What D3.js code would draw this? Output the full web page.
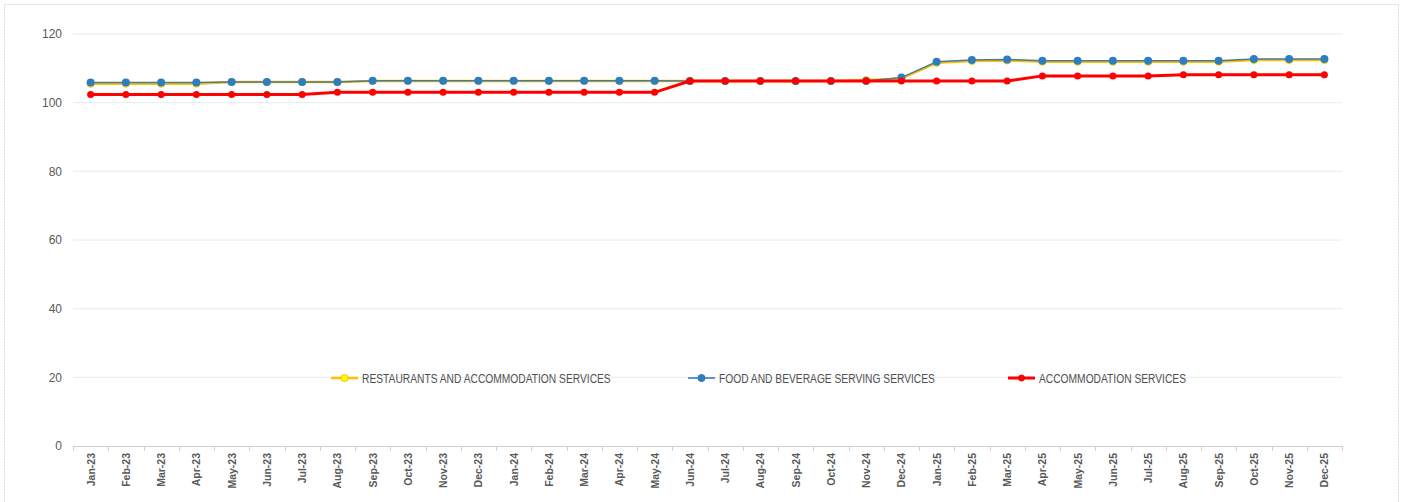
<!DOCTYPE html>
<html>
<head>
    <script src="https://cdn.jsdelivr.net/npm/d3@7"></script>
    <style>
        body { margin: 0; background: #fff; }
        svg text { font-family: "Liberation Sans", Arial, sans-serif; }
    </style>
</head>
<body>
<div id="chart"></div>
<script>
    var months = ["Jan-23","Feb-23","Mar-23","Apr-23","May-23","Jun-23","Jul-23","Aug-23","Sep-23","Oct-23","Nov-23","Dec-23",
                  "Jan-24","Feb-24","Mar-24","Apr-24","May-24","Jun-24","Jul-24","Aug-24","Sep-24","Oct-24","Nov-24","Dec-24",
                  "Jan-25","Feb-25","Mar-25","Apr-25","May-25","Jun-25","Jul-25","Aug-25","Sep-25","Oct-25","Nov-25","Dec-25"];

    var restaurants = [105.5,105.5,105.5,105.5,106.0,106.0,106.0,106.0,106.3,106.3,106.3,106.3,
                       106.3,106.3,106.3,106.3,106.3,106.3,106.3,106.3,106.3,106.3,106.6,107.0,
                       111.6,112.1,112.3,111.9,111.9,111.9,111.9,111.9,111.9,112.4,112.4,112.4];
    var food = [105.9,105.9,105.9,105.9,106.0,106.0,106.0,106.0,106.4,106.4,106.4,106.4,
                106.4,106.4,106.4,106.4,106.4,106.3,106.3,106.3,106.3,106.3,106.3,107.3,
                111.9,112.4,112.6,112.2,112.2,112.2,112.2,112.2,112.2,112.7,112.7,112.7];
    var accommodation = [102.4,102.4,102.4,102.4,102.4,102.4,102.4,103.0,103.0,103.0,103.0,103.0,
                         103.0,103.0,103.0,103.0,103.0,106.3,106.3,106.3,106.3,106.3,106.3,106.3,
                         106.3,106.3,106.3,107.8,107.8,107.8,107.8,108.1,108.1,108.1,108.1,108.1];

    var yTicks = [0, 20, 40, 60, 80, 100, 120];

    var W = 1403, H = 502;
    var marg_l = 73, marg_r = 61, marg_t = 34, marg_b = 56;
    var width = W - marg_l - marg_r,
        height = H - marg_t - marg_b;

    var root = d3.select("#chart").append("svg")
        .attr("width", W)
        .attr("height", H);

    // chart area border
    root.append("rect")
        .attr("x", 4.5).attr("y", 4.5)
        .attr("width", 1394).attr("height", 520)
        .attr("fill", "none")
        .attr("stroke", "#d9d9d9")
        .attr("stroke-dasharray", "2,1");

    var svg = root.append("g")
        .attr("transform", "translate(" + marg_l + "," + marg_t + ")");

    var x = d3.scaleBand().domain(months).range([0, width]);
    var y = d3.scaleLinear().domain([0, 120]).range([height, 0]);
    var cx = function(i) { return x(months[i]) + x.bandwidth() / 2; };

    // gridlines
    svg.append("g")
        .selectAll("line")
        .data(yTicks.filter(function(d) { return d > 0; }))
        .enter().append("line")
            .attr("x1", 0).attr("x2", width)
            .attr("y1", function(d) { return y(d); })
            .attr("y2", function(d) { return y(d); })
            .attr("stroke", "#e3ecee")
            .attr("stroke-width", 1);

    // y axis labels
    var yAxis = svg.append("g")
        .call(d3.axisLeft(y).tickValues(yTicks).tickSize(0).tickPadding(11));
    yAxis.select(".domain").remove();
    yAxis.selectAll("text")
        .attr("fill", "#595959")
        .style("font-size", "12px")
        .style("font-family", "Liberation Sans, Arial, sans-serif");

    // x axis
    svg.append("line")
        .attr("x1", 0).attr("x2", width)
        .attr("y1", height + 0.5).attr("y2", height + 0.5)
        .attr("stroke", "#d0d0d0");
    svg.append("g")
        .selectAll("line")
        .data(d3.range(months.length + 1))
        .enter().append("line")
            .attr("x1", function(i) { return Math.round(i * x.bandwidth()) + 0.5; })
            .attr("x2", function(i) { return Math.round(i * x.bandwidth()) + 0.5; })
            .attr("y1", height)
            .attr("y2", height + 5)
            .attr("stroke", "#d0d0d0");

    svg.append("g")
        .selectAll("text")
        .data(months)
        .enter().append("text")
            .attr("transform", function(d, i) {
                return "translate(" + (cx(i) + 4) + "," + (height + 7) + ")rotate(-90)";
            })
            .style("text-anchor", "end")
            .style("font-size", "10.5px")
            .style("font-weight", "bold")
            .attr("fill", "#595959")
            .text(function(d) { return d; });

    var line = d3.line()
        .x(function(d, i) { return cx(i); })
        .y(function(d) { return y(d); });

    // restaurants and accommodation (yellow)
    svg.append("path")
        .datum(restaurants)
        .attr("fill", "none")
        .attr("stroke", "#ffc000")
        .attr("stroke-width", 2.5)
        .attr("d", line);
    svg.append("g").selectAll("circle")
        .data(restaurants)
        .enter().append("circle")
            .attr("cx", function(d, i) { return cx(i); })
            .attr("cy", function(d) { return y(d); })
            .attr("r", 3.5)
            .attr("fill", "#ffff00")
            .attr("stroke", "#ffc000")
            .attr("stroke-width", 1);

    // food and beverage (blue)
    svg.append("path")
        .datum(food)
        .attr("fill", "none")
        .attr("stroke", "#4a7a9a")
        .attr("stroke-width", 1.5)
        .attr("d", line);
    svg.append("g").selectAll("circle")
        .data(food)
        .enter().append("circle")
            .attr("cx", function(d, i) { return cx(i); })
            .attr("cy", function(d) { return y(d); })
            .attr("r", 4)
            .attr("fill", "#2e7ebf");

    // accommodation (red)
    svg.append("path")
        .datum(accommodation)
        .attr("fill", "none")
        .attr("stroke", "#ff0000")
        .attr("stroke-width", 3)
        .attr("d", line);
    svg.append("g").selectAll("circle")
        .data(accommodation)
        .enter().append("circle")
            .attr("cx", function(d, i) { return cx(i); })
            .attr("cy", function(d) { return y(d); })
            .attr("r", 3.5)
            .attr("fill", "#ff0000");

    // legend
    var legend = [
        { name: "RESTAURANTS AND ACCOMMODATION SERVICES", x: 331, color: "#ffc000", w: 2.5, fill: "#ffff00", r: 3.5 },
        { name: "FOOD AND BEVERAGE SERVING SERVICES", x: 688, color: "#2e75b6", w: 1.5, fill: "#2e7ebf", r: 3.5 },
        { name: "ACCOMMODATION SERVICES", x: 1008, color: "#ff0000", w: 3, fill: "#ff0000", r: 3 }
    ];
    var ly = 378;
    var lg = root.append("g").selectAll("g")
        .data(legend)
        .enter().append("g")
            .attr("transform", function(d) { return "translate(" + d.x + "," + ly + ")"; });
    lg.append("line")
        .attr("x1", 0).attr("x2", 27)
        .attr("stroke", function(d) { return d.color; })
        .attr("stroke-width", function(d) { return d.w; });
    lg.append("circle")
        .attr("cx", 13.5)
        .attr("r", function(d) { return d.r; })
        .attr("fill", function(d) { return d.fill; })
        .attr("stroke", function(d) { return d.color; })
        .attr("stroke-width", 1);
    // narrow the text to match the condensed face of the original
    lg.append("text")
        .attr("transform", "translate(31,4.5)scale(0.82,1)")
        .style("font-size", "12.5px")
        .attr("fill", "#505050")
        .text(function(d) { return d.name; });
</script>
</body>
</html>
